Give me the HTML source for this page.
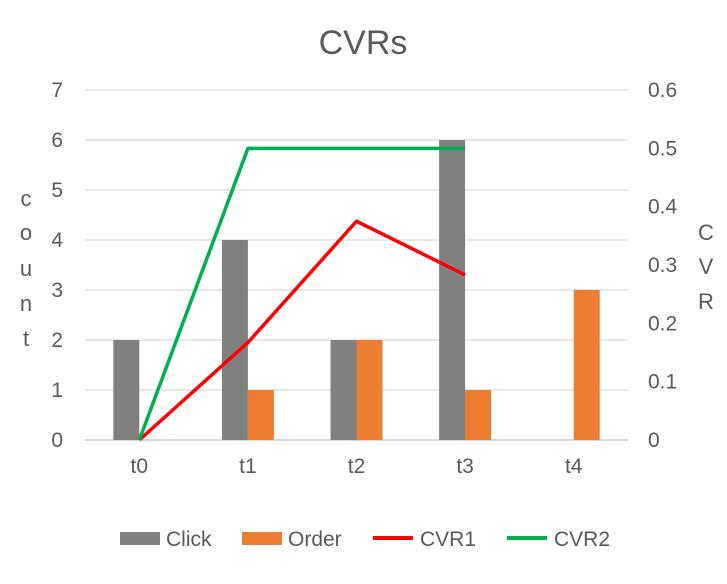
<!DOCTYPE html>
<html><head><meta charset="utf-8"><style>
body{margin:0;background:#fff;font-family:"Liberation Sans",Arial,sans-serif;}
svg text{font-family:"Liberation Sans",Arial,sans-serif;fill:#595959;}
</style></head><body>
<svg width="727" height="579">
<text x="363" y="54" font-size="34" text-anchor="middle">CVRs</text>
<g id="grid"></g><g id="bars"></g><g id="lines"></g><g id="ticks"></g>
<g font-size="22">
<text x="26" y="206" text-anchor="middle">c</text><text x="26" y="240" text-anchor="middle">o</text><text x="26" y="276" text-anchor="middle">u</text><text x="26" y="311" text-anchor="middle">n</text><text x="26" y="346" text-anchor="middle">t</text>
</g>
<g font-size="22">
<text x="706" y="240" text-anchor="middle">C</text><text x="706" y="274" text-anchor="middle">V</text><text x="706" y="309" text-anchor="middle">R</text>
</g>
<g font-size="21">
<g><rect x="120" y="532" width="40" height="13" fill="#808080"/><text x="166" y="546">Click</text></g>
<g><rect x="242" y="532" width="40" height="13" fill="#ED7D31"/><text x="288" y="546">Order</text></g>
<g><line x1="373" y1="538" x2="413" y2="538" stroke="#FF0000" stroke-width="4"/><text x="420" y="546">CVR1</text></g>
<g><line x1="507" y1="538" x2="547" y2="538" stroke="#00B050" stroke-width="4"/><text x="554" y="546">CVR2</text></g>
</g>
</svg>
<script>
const categories=["t0","t1","t2","t3","t4"];
const clicks=[2,4,2,6,0];
const orders=[0,1,2,1,3];
const cvr1=[0,0.167,0.375,0.283,null];
const cvr2=[0,0.5,0.5,0.5,null];
const leftTicks=[0,1,2,3,4,5,6,7];
const rightTicks=["0","0.1","0.2","0.3","0.4","0.5","0.6"];
const NS="http://www.w3.org/2000/svg";
const L=85,R=628,T=90,B=440;
const band=(R-L)/categories.length;
const xc=i=>L+band*(i+0.5);
const yL=v=>B-(B-T)*v/7;
const yR=v=>B-(B-T)*v/0.6;
function mk(tag,attrs,parent){const e=document.createElementNS(NS,tag);for(const k in attrs)e.setAttribute(k,attrs[k]);document.getElementById(parent).appendChild(e);return e;}
leftTicks.forEach(v=>{
 const g=mk("line",{x1:L,x2:R,y1:yL(v),y2:yL(v),stroke:v===0?"#bfbfbf":"#d9d9d9","stroke-width":1.3},"grid");
 
 
 const t=mk("text",{x:63,y:yL(v)+7,"font-size":21,"text-anchor":"end"},"ticks");t.textContent=v;
 
 
});
rightTicks.forEach((s,i)=>{
 const t=mk("text",{x:648,y:yR(i*0.1)+7,"font-size":21},"ticks");t.textContent=s;
 
 
});
categories.forEach((c,i)=>{
 const t=mk("text",{x:xc(i),y:473,"font-size":21,"text-anchor":"middle"},"ticks");t.textContent=c;
 
 
 const bw=26;
 if(clicks[i]>0){const r=mk("rect",{x:xc(i)-bw,y:yL(clicks[i]),width:bw,height:B-yL(clicks[i]),fill:"#808080"},"bars");
 
 }
 if(orders[i]>0){const r=mk("rect",{x:xc(i),y:yL(orders[i]),width:bw,height:B-yL(orders[i]),fill:"#ED7D31"},"bars");
 
 }
});
function line(vals,color,name){
 const pts=vals.map((v,i)=>v==null?null:xc(i)+","+yR(v)).filter(p=>p);
 const p=mk("polyline",{points:pts.join(" "),fill:"none",stroke:color,"stroke-width":3.5,"stroke-linejoin":"round"},"lines");
 
 
}
line(cvr1,"#FF0000","line-cvr1");
line(cvr2,"#00B050","line-cvr2");
</script>
</body></html>
